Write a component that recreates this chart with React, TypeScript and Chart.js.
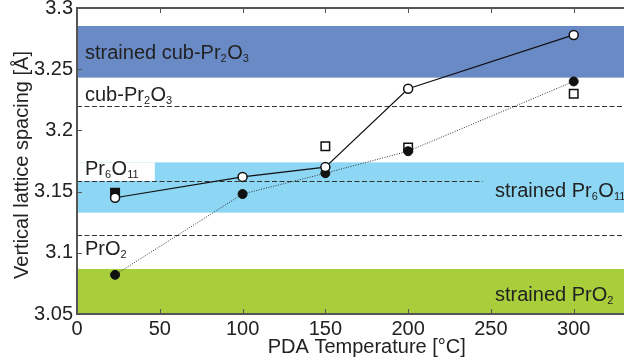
import React, { useEffect, useRef } from 'react';
import { Chart, registerables } from 'chart.js';

Chart.register(...registerables);

// ---- data ----
const temps = [23, 100, 150, 200, 300];
const openCircleValues = [3.145, 3.162, 3.170, 3.234, 3.278];
const filledCircleValues = [3.082, 3.148, 3.165, 3.183, 3.240];
const squareTemps = [23, 150, 200, 300];
const squareValues = [3.149, 3.187, 3.186, 3.230];

const xTicks = [0, 50, 100, 150, 200, 250, 300, 350];
const xTickLabels = ['0', '50', '100', '150', '200', '250', '300', '350'];
const yTicks = [3.05, 3.1, 3.15, 3.2, 3.25, 3.3];
const yTickLabels = ['3.05', '3.1', '3.15', '3.2', '3.25', '3.3'];

// phase bands (strained cub-Pr2O3, strained Pr6O11, strained PrO2)
const bandTops = [3.2853, 3.1739, 3.0868];
const bandBottoms = [3.2431, 3.1328, 3.05];
const bandColors = ['#6a8ac6', '#8dd7f5', '#a8ce3b'];
// reference lattice spacings (cub-Pr2O3, Pr6O11, PrO2)
const refValues = [3.2202, 3.1587, 3.1143];
const refEnds = [350, 245, 350];
// label-clearance notch in the Pr6O11 band
const notchX = 47;

const xTitle = 'PDA Temperature [°C]';
const yTitle = 'Vertical lattice spacing [Å]';

type Seg = [string, boolean];
const labelStrainedCub: Seg[] = [['strained cub-Pr', false], ['2', true], ['O', false], ['3', true]];
const labelCub: Seg[] = [['cub-Pr', false], ['2', true], ['O', false], ['3', true]];
const labelPr6: Seg[] = [['Pr', false], ['6', true], ['O', false], ['11', true]];
const labelPrO2: Seg[] = [['PrO', false], ['2', true]];
const labelStrainedPr6: Seg[] = [['strained Pr', false], ['6', true], ['O', false], ['11', true]];
const labelStrainedPrO2: Seg[] = [['strained PrO', false], ['2', true]];

const FONT = '"Liberation Sans", Arial, sans-serif';
const TEXT = '#222';
const AXIS = '#555';

function drawRich(ctx: CanvasRenderingContext2D, x: number, y: number, segs: Seg[]) {
  let cx = x;
  ctx.textAlign = 'left';
  ctx.textBaseline = 'alphabetic';
  for (const [t, sub] of segs) {
    ctx.font = sub ? `11px ${FONT}` : `20px ${FONT}`;
    ctx.fillText(t, cx, sub ? y + 3 : y);
    cx += ctx.measureText(t).width + (sub ? 0.5 : 0);
  }
}

const backgroundPlugin = {
  id: 'phaseBands',
  beforeDatasetsDraw(chart: any) {
    const { ctx, chartArea, scales } = chart;
    const xs = scales.x;
    const ys = scales.y;
    ctx.save();
    for (let i = 0; i < bandTops.length; i++) {
      const top = ys.getPixelForValue(bandTops[i]);
      const bot = ys.getPixelForValue(bandBottoms[i]);
      ctx.fillStyle = bandColors[i];
      ctx.fillRect(chartArea.left, top, chartArea.right - chartArea.left, bot - top);
    }
    // notch
    const nTop = ys.getPixelForValue(bandTops[1]);
    const nBot = ys.getPixelForValue(refValues[1]);
    ctx.fillStyle = '#fff';
    ctx.fillRect(chartArea.left, nTop, xs.getPixelForValue(notchX) - chartArea.left, nBot - nTop);

    // dashed reference lines
    ctx.strokeStyle = '#333';
    ctx.lineWidth = 1;
    ctx.setLineDash([5, 2.5]);
    for (let i = 0; i < refValues.length; i++) {
      const y = Math.round(ys.getPixelForValue(refValues[i])) + 0.5;
      ctx.beginPath();
      ctx.moveTo(chartArea.left, y);
      ctx.lineTo(xs.getPixelForValue(refEnds[i]), y);
      ctx.stroke();
    }
    ctx.setLineDash([]);

    // labels
    ctx.fillStyle = TEXT;
    const L = chartArea.left + 8;
    drawRich(ctx, L, 59, labelStrainedCub);
    drawRich(ctx, L, 101, labelCub);
    drawRich(ctx, L, 175, labelPr6);
    drawRich(ctx, L, 255, labelPrO2);
    drawRich(ctx, 495, 197, labelStrainedPr6);
    drawRich(ctx, 495, 301, labelStrainedPrO2);
    ctx.restore();
  },
  afterDraw(chart: any) {
    const { ctx, chartArea, scales } = chart;
    const xs = scales.x;
    const ys = scales.y;
    ctx.save();
    ctx.strokeStyle = AXIS;
    ctx.lineWidth = 2;
    ctx.beginPath();
    ctx.moveTo(chartArea.right, chartArea.top);
    ctx.lineTo(chartArea.left, chartArea.top);
    ctx.lineTo(chartArea.left, chartArea.bottom);
    ctx.lineTo(chartArea.right, chartArea.bottom);
    ctx.stroke();
    ctx.lineWidth = 1;
    ctx.beginPath();
    for (const v of xTicks) {
      if (v === 0) continue;
      const x = Math.round(xs.getPixelForValue(v)) + 0.5;
      ctx.moveTo(x, chartArea.bottom);
      ctx.lineTo(x, chartArea.bottom - 5);
      ctx.moveTo(x, chartArea.top);
      ctx.lineTo(x, chartArea.top + 5);
    }
    for (const v of yTicks) {
      if (v === yTicks[0] || v === yTicks[yTicks.length - 1]) continue;
      const y = Math.round(ys.getPixelForValue(v)) + 0.5;
      ctx.moveTo(chartArea.left, y);
      ctx.lineTo(chartArea.left + 5, y);
    }
    ctx.stroke();

    // axis titles
    ctx.fillStyle = TEXT;
    ctx.font = `20px ${FONT}`;
    ctx.textAlign = 'center';
    ctx.textBaseline = 'alphabetic';
    ctx.fillText(xTitle, (chartArea.left + chartArea.right) / 2, 353);
    ctx.translate(28, (chartArea.top + chartArea.bottom) / 2 + 4);
    ctx.rotate(-Math.PI / 2);
    ctx.fillText(yTitle, 0, 0);
    ctx.restore();
  },
};

export default function App() {
  const ref = useRef<HTMLCanvasElement | null>(null);
  useEffect(() => {
    const canvas = ref.current;
    if (!canvas) return;
    const chart = new Chart(canvas, {
      type: 'scatter',
      data: {
        datasets: [
          {
            label: 'open',
            data: temps.map((t, i) => ({ x: t, y: openCircleValues[i] })),
            showLine: true,
            borderColor: '#111',
            borderWidth: 1.2,
            pointStyle: 'circle',
            pointRadius: 4.5,
            pointBackgroundColor: '#fff',
            pointBorderColor: '#111',
            pointBorderWidth: 1.5,
          },
          {
            label: 'filled',
            data: temps.map((t, i) => ({ x: t, y: filledCircleValues[i] })),
            showLine: true,
            borderColor: '#333',
            borderWidth: 1,
            borderDash: [1, 1.5],
            pointStyle: 'circle',
            pointRadius: 4.5,
            pointBackgroundColor: '#111',
            pointBorderColor: '#111',
            pointBorderWidth: 1,
          },
          {
            label: 'square',
            data: squareTemps.map((t, i) => ({ x: t, y: squareValues[i] })),
            showLine: false,
            pointStyle: 'rect',
            pointRadius: 6,
            pointBackgroundColor: squareTemps.map((_, i) => (i === 0 ? '#111' : '#fff')),
            pointBorderColor: '#111',
            pointBorderWidth: 1.5,
          },
        ],
      },
      options: {
        responsive: false,
        animation: false,
        events: [],
        layout: { padding: { top: 8, left: 0, right: 0, bottom: 0 } },
        plugins: { legend: { display: false }, tooltip: { enabled: false } },
        scales: {
          x: {
            type: 'linear',
            min: 0,
            max: 350,
            grid: { display: false, drawTicks: false },
            border: { display: false },
            afterBuildTicks: (s: any) => {
              s.ticks = xTicks.map((v) => ({ value: v }));
            },
            afterFit: (s: any) => {
              s.height = 50;
              s.paddingLeft = 0;
              s.paddingRight = 0;
            },
            ticks: {
              padding: 3,
              maxRotation: 0,
              autoSkip: false,
              color: TEXT,
              font: { family: FONT, size: 20 },
              callback: (v: any) => {
                const i = xTicks.indexOf(Number(v));
                return i >= 0 ? xTickLabels[i] : '';
              },
            },
          },
          y: {
            type: 'linear',
            min: 3.05,
            max: 3.3,
            grid: { display: false, drawTicks: false },
            border: { display: false },
            afterBuildTicks: (s: any) => {
              s.ticks = yTicks.map((v) => ({ value: v }));
            },
            afterFit: (s: any) => {
              s.width = 77;
              s.paddingTop = 0;
              s.paddingBottom = 0;
            },
            ticks: {
              padding: 4,
              autoSkip: false,
              color: TEXT,
              font: { family: FONT, size: 20 },
              callback: (v: any) => {
                const i = yTicks.findIndex((t) => Math.abs(t - Number(v)) < 1e-6);
                return i >= 0 ? yTickLabels[i] : '';
              },
            },
          },
        },
      },
      plugins: [backgroundPlugin],
    });
    return () => chart.destroy();
  }, []);

  return (
    <div style={{ position: 'fixed', left: 0, top: 0, width: 624, height: 364, overflow: 'hidden', background: '#fff' }}>
      <canvas ref={ref} width={664} height={364} style={{ display: 'block', width: 664, height: 364 }} />
    </div>
  );
}
